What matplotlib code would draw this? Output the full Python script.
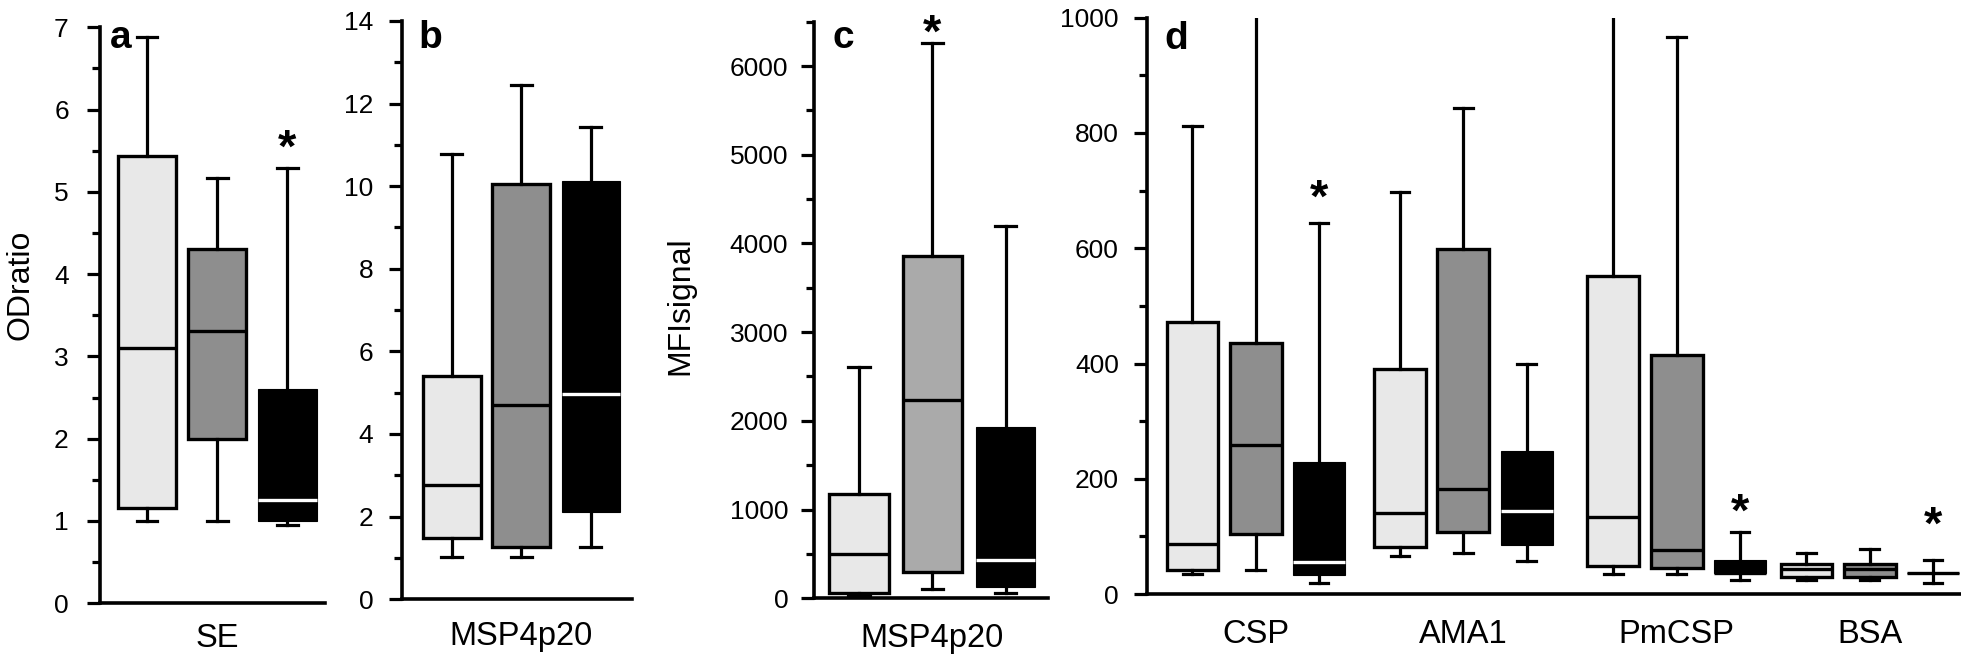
import matplotlib
matplotlib.use("Agg")
import matplotlib.pyplot as plt
from matplotlib.ticker import MultipleLocator

plt.rcParams["font.family"] = ["Liberation Sans", "DejaVu Sans"]

# ---- data ----
# panel a: OD ratio, SE
a_label = "SE"
a_low = [1.00, 1.00, 0.95]
a_q1 = [1.16, 2.00, 1.00]
a_med = [3.10, 3.31, 1.25]
a_q3 = [5.43, 4.30, 2.60]
a_high = [6.88, 5.17, 5.29]
a_star = {2: 5.70}

# panel b: OD ratio, MSP4p20
b_label = "MSP4p20"
b_low = [1.03, 1.03, 1.27]
b_q1 = [1.47, 1.27, 2.11]
b_med = [2.77, 4.69, 4.97]
b_q3 = [5.40, 10.06, 10.12]
b_high = [10.77, 12.46, 11.44]

# panel c: MFI signal, MSP4p20
c_label = "MSP4p20"
c_low = [36, 100, 62]
c_q1 = [64, 299, 123]
c_med = [500, 2234, 430]
c_q3 = [1171, 3862, 1926]
c_high = [2602, 6261, 4202]
c_star = {1: 6530}

# panel d: MFI signal, four antigens x three groups
d_labels = ["CSP", "AMA1", "PmCSP", "BSA"]
d_low = [[35, 41, 20], [66, 71, 57], [35, 35, 24], [24, 24, 20]]
d_q1 = [[41, 104, 33], [82, 108, 86], [49, 46, 37], [30, 30, 36]]
d_med = [[87, 259, 56], [140, 182, 144], [133, 77, 37], [43, 43, 36]]
d_q3 = [[472, 436, 229], [390, 598, 249], [551, 415, 59], [53, 53, 36]]
d_high = [[812, 1150, 644], [698, 843, 400], [1150, 967, 108], [72, 78, 60]]
d_star = {(0, 2): 711, (2, 2): 166, (3, 2): 144}

LIGHT = "#e8e8e8"
GRAY = "#8e8e8e"
GRAY_C = "#aaaaaa"
BLACK = "#000000"

W, H = 1961, 657
fig = plt.figure(figsize=(W / 100, H / 100), dpi=100)


def rect(x0, x1, ytop, ybot):
    return [x0 / W, 1 - ybot / H, (x1 - x0) / W, (ybot - ytop) / H]


def stats(low, q1, med, q3, high):
    return [dict(whislo=l, q1=a, med=m, q3=b, whishi=h, fliers=[])
            for l, a, m, b, h in zip(low, q1, med, q3, high)]


def draw(ax, st, positions, width, colors):
    res = ax.bxp(st, positions=positions, widths=width, capwidths=width * 0.36,
                 patch_artist=True, showfliers=False,
                 whiskerprops=dict(color="black", lw=2.3),
                 capprops=dict(color="black", lw=2.3),
                 medianprops=dict(lw=2.4), manage_ticks=False)
    for box, med, s, col in zip(res["boxes"], res["medians"], st, colors):
        box.set_facecolor(col)
        if col == BLACK:
            box.set_edgecolor(BLACK)
            box.set_linewidth(0.8)
            mcol = "white"
        else:
            box.set_edgecolor("black")
            box.set_linewidth(2.4)
            mcol = "black"
        if s["med"] in (s["q1"], s["q3"]):
            mcol = col
        med.set_color(mcol)
    return res


def style(ax, major, minor, pad_y, pad_x):
    for sp in ["top", "right"]:
        ax.spines[sp].set_visible(False)
    for sp in ["left", "bottom"]:
        ax.spines[sp].set_linewidth(2.6)
    ax.yaxis.set_major_locator(MultipleLocator(major))
    ax.yaxis.set_minor_locator(MultipleLocator(minor))
    ax.tick_params(axis="y", which="major", length=9.5, width=2.3, labelsize=19, pad=pad_y)
    ax.tick_params(axis="y", which="minor", length=5.5, width=2.3)
    ax.tick_params(axis="x", length=0, labelsize=23.5, pad=pad_x)


def star(ax, x, y):
    fs = 34
    ax.annotate("*", xy=(x, y), xytext=(0, -0.58 * fs), textcoords="offset points",
                ha="center", va="baseline", fontsize=fs, fontweight="bold",
                annotation_clip=False)


# ---- panel a ----
ax = fig.add_axes(rect(100, 325, 27.2, 603.3))
pos = [1, 2, 3]
draw(ax, stats(a_low, a_q1, a_med, a_q3, a_high), pos, 0.83, [LIGHT, GRAY, BLACK])
ax.set_xlim(0.331, 3.534)
ax.set_ylim(0, 7)
style(ax, 1, 0.5, 13, 14)
ax.set_xticks([2], [a_label])
for i, v in a_star.items():
    star(ax, pos[i], v)

# ---- panel b ----
ax = fig.add_axes(rect(401.7, 631.7, 20.9, 599.1))
draw(ax, stats(b_low, b_q1, b_med, b_q3, b_high), pos, 0.83, [LIGHT, GRAY, BLACK])
ax.set_xlim(0.281, 3.588)
ax.set_ylim(0, 14)
style(ax, 2, 1, 11, 16)
ax.set_xticks([2], [b_label])

# ---- panel c ----
ax = fig.add_axes(rect(814, 1048, 21.7, 598.2))
draw(ax, stats(c_low, c_q1, c_med, c_q3, c_high), pos, 0.81, [LIGHT, GRAY_C, BLACK])
ax.set_xlim(0.386, 3.58)
ax.set_ylim(0, 6500)
style(ax, 1000, 500, 9, 18)
ax.set_xticks([2], [c_label])
for i, v in c_star.items():
    star(ax, pos[i], v)

# ---- panel d ----
ax = fig.add_axes(rect(1147.3, 1960, 17.6, 594.1))
centers = [2, 5.28, 8.65, 11.70]
for g, c in enumerate(centers):
    gpos = [c - 1, c, c + 1]
    draw(ax, stats(d_low[g], d_q1[g], d_med[g], d_q3[g], d_high[g]), gpos, 0.82,
         [LIGHT, GRAY, BLACK])
ax.set_xlim(0.286, 13.125)
ax.set_ylim(0, 1000)
style(ax, 200, 100, 11, 18)
ax.set_xticks(centers, d_labels)
for (g, i), v in d_star.items():
    star(ax, centers[g] - 1 + i, v)

# ---- labels ----
fig.text(21 / W, 1 - 285 / H, "ODratio", rotation=90, ha="center", va="center", fontsize=23)
fig.text(680 / W, 1 - 306 / H, "MFIsignal", rotation=90, ha="center", va="center", fontsize=23)
for letter, x, y in [("a", 110, 48), ("b", 418, 48), ("c", 833, 48), ("d", 1164, 49)]:
    fig.text(x / W, 1 - y / H, letter, ha="left", va="baseline", fontsize=28, fontweight="bold")

fig.savefig("out.png", dpi=100)
